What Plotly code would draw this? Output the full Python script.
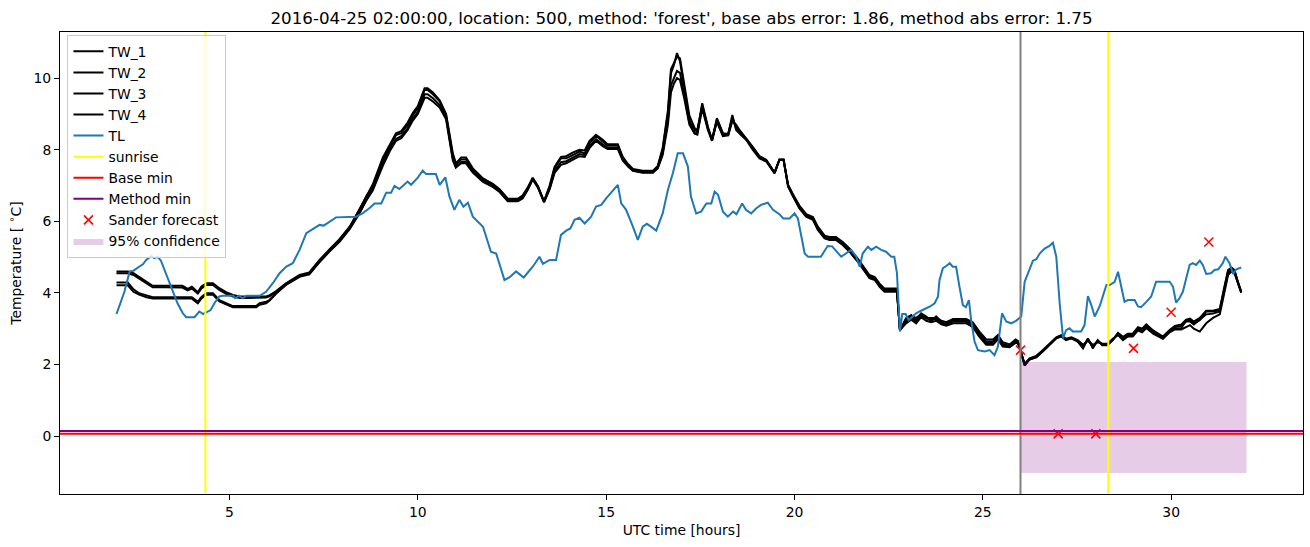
import plotly.graph_objects as go

# ---------------- data ----------------
TW_T = [2.0, 2.3, 2.45, 2.6, 2.8, 2.96, 3.3, 3.58, 3.75, 3.89, 4.0, 4.16, 4.25, 4.38, 4.56, 4.73, 4.91, 5.09,
        5.27, 5.5, 5.71, 5.8, 5.97, 6.06, 6.24,
        6.5, 6.86, 7.12, 7.39, 7.66, 7.92, 8.19, 8.45, 8.63, 8.8, 9.07, 9.25, 9.42, 9.56, 9.73, 9.87, 10.0,
        10.18, 10.26, 10.4, 10.58, 10.75, 10.93, 11.01, 11.15, 11.28, 11.46, 11.73, 11.99, 12.17, 12.39, 12.65,
        12.78, 12.92, 13.05, 13.19, 13.35, 13.5, 13.63, 13.8, 13.94, 14.11, 14.29, 14.43, 14.56, 14.73, 14.91,
        15.04, 15.31, 15.44, 15.58, 15.71, 15.97, 16.24, 16.37, 16.5, 16.64, 16.72, 16.8, 16.88, 16.96, 17.08,
        17.21, 17.35, 17.42, 17.55, 17.7, 17.81, 17.94, 18.1, 18.24, 18.35, 18.45, 18.58, 18.72, 18.89, 19.07,
        19.25, 19.47, 19.6, 19.71, 19.83, 19.96, 20.13, 20.31, 20.49, 20.62, 20.8, 20.93, 21.1, 21.28, 21.46,
        21.68, 21.86, 21.99, 22.13, 22.26, 22.39, 22.65, 22.72, 22.8, 22.88, 22.96, 23.1, 23.23, 23.36, 23.5,
        23.63, 23.76, 23.9, 24.03, 24.21, 24.56, 24.73, 24.91, 25.09, 25.27, 25.4, 25.53, 25.71, 25.87, 25.93,
        26.02, 26.11, 26.24, 26.42, 26.59, 26.77, 26.95, 27.08, 27.21, 27.35, 27.52, 27.66, 27.79, 27.92,
        28.05, 28.17, 28.31, 28.45, 28.59, 28.72, 28.85, 28.98, 29.12, 29.23, 29.34, 29.52, 29.78, 29.96,
        30.1, 30.27, 30.4, 30.5, 30.6, 30.76, 30.93, 31.11, 31.29, 31.42, 31.51, 31.6, 31.68, 31.77, 31.86]

TW_1 = [4.6, 4.6, 4.55, 4.44, 4.31, 4.2, 4.2, 4.2, 4.2, 4.11, 4.17, 4.02, 4.17, 4.27, 4.27, 4.13, 4.02, 3.94,
        3.9, 3.9, 3.9, 3.9, 3.9, 3.93, 4.05,
        4.27, 4.5, 4.57, 4.92, 5.22, 5.5, 5.85, 6.32, 6.69, 6.97, 7.72, 8.09, 8.41, 8.46, 8.69, 8.97, 9.16,
        9.67, 9.67, 9.55, 9.35, 8.97, 7.81, 7.58, 7.73, 7.73, 7.44, 7.16, 7.02, 6.88, 6.6, 6.6,
        6.69, 6.92, 7.2, 6.97, 6.55, 6.97, 7.48, 7.76, 7.76, 7.85, 7.95, 7.9, 8.18, 8.39, 8.23,
        8.11, 8.11, 7.76, 7.58, 7.44, 7.39, 7.39, 7.53, 8.0, 9.02, 10.14, 10.37, 10.7, 10.47, 9.67,
        8.83, 8.46, 8.46, 9.3, 8.65, 8.27, 8.88, 8.46, 8.44, 8.97, 8.55, 8.41, 8.27, 8.0, 7.76,
        7.67, 7.34, 7.72, 7.72, 6.97, 6.69, 6.36, 6.13, 6.04, 5.76, 5.52, 5.48, 5.48, 5.34, 5.15,
        4.87, 4.59, 4.41, 4.36, 4.17, 4.03, 4.03, 4.03, 2.96, 3.15, 3.29, 3.38, 3.24, 3.43, 3.34,
        3.2, 3.34, 3.2, 3.1, 3.24, 3.24, 3.15, 2.87, 2.64, 2.64, 2.78, 2.57, 2.5, 2.68, 2.64,
        2.31, 1.97, 2.14, 2.2, 2.36, 2.54, 2.73, 2.78, 2.68, 2.73, 2.64, 2.45, 2.73, 2.45,
        2.68, 2.54, 2.54, 2.68, 2.87, 2.73, 2.82, 2.82, 3.01, 2.96, 3.1, 2.92, 2.73, 2.92,
        3.01, 3.01, 3.24, 3.24, 3.15, 3.24, 3.48, 3.48, 3.52, 4.17, 4.64, 4.71, 4.64, 4.31, 4.03]

TW_2 = [4.55, 4.55, 4.5, 4.4, 4.26, 4.16, 4.16, 4.15, 4.15, 4.07, 4.12, 3.98, 4.12, 4.22, 4.22, 4.08, 3.97, 3.9,
        3.86, 3.86, 3.86, 3.86, 3.87, 3.9, 4.03,
        4.25, 4.48, 4.55, 4.9, 5.2, 5.48, 5.83, 6.35, 6.72, 7.02, 7.78, 8.15, 8.46, 8.52, 8.76, 9.03, 9.22,
        9.72, 9.72, 9.6, 9.38, 9.0, 7.9, 7.62, 7.78, 7.78, 7.48, 7.2, 7.05, 6.9, 6.63, 6.63,
        6.72, 6.95, 7.22, 6.98, 6.56, 7.0, 7.52, 7.8, 7.82, 7.92, 8.0, 7.98, 8.25, 8.42, 8.28,
        8.15, 8.15, 7.8, 7.6, 7.46, 7.41, 7.41, 7.55, 8.05, 9.1, 10.25, 10.45, 10.6, 10.55, 9.8,
        8.95, 8.6, 8.55, 9.25, 8.6, 8.25, 8.85, 8.45, 8.42, 8.9, 8.6, 8.45, 8.3, 8.05, 7.8,
        7.7, 7.36, 7.72, 7.72, 7.0, 6.72, 6.4, 6.17, 6.08, 5.8, 5.56, 5.52, 5.52, 5.38, 5.2,
        4.92, 4.64, 4.46, 4.4, 4.22, 4.08, 4.08, 4.08, 2.96, 3.08, 3.2, 3.3, 3.2, 3.36, 3.28,
        3.25, 3.28, 3.15, 3.14, 3.2, 3.2, 3.1, 2.82, 2.6, 2.6, 2.74, 2.54, 2.52, 2.64, 2.62,
        2.3, 2.0, 2.15, 2.22, 2.38, 2.56, 2.74, 2.8, 2.7, 2.74, 2.66, 2.5, 2.7, 2.5,
        2.66, 2.56, 2.56, 2.7, 2.85, 2.75, 2.84, 2.84, 3.0, 2.95, 3.08, 2.9, 2.75, 2.94,
        3.05, 3.08, 3.2, 3.2, 3.12, 3.25, 3.4, 3.42, 3.48, 4.1, 4.55, 4.65, 4.6, 4.3, 4.02]

TW_3 = [4.29, 4.29, 4.1, 3.99, 3.93, 3.88, 3.88, 3.88, 3.88, 3.88, 3.88, 3.75, 3.88, 3.99, 3.99, 3.8, 3.71, 3.63,
        3.63, 3.63, 3.63, 3.71, 3.75, 3.8, 4.0,
        4.24, 4.47, 4.55, 4.88, 5.18, 5.45, 5.8, 6.25, 6.6, 6.9, 7.62, 8.0, 8.3, 8.38, 8.6, 8.88, 9.06,
        9.55, 9.55, 9.44, 9.25, 8.9, 7.75, 7.52, 7.66, 7.66, 7.38, 7.12, 6.98, 6.84, 6.57, 6.57,
        6.65, 6.9, 7.18, 6.95, 6.54, 6.92, 7.4, 7.65, 7.68, 7.78, 7.88, 7.85, 8.1, 8.3, 8.15,
        8.05, 8.05, 7.72, 7.55, 7.42, 7.37, 7.37, 7.5, 7.9, 8.85, 9.8, 10.0, 10.2, 10.15, 9.5,
        8.75, 8.55, 8.5, 9.2, 8.6, 8.3, 8.8, 8.4, 8.45, 8.85, 8.65, 8.5, 8.32, 8.08, 7.82,
        7.72, 7.36, 7.72, 7.72, 7.02, 6.75, 6.44, 6.2, 6.12, 5.85, 5.6, 5.56, 5.56, 5.42, 5.24,
        4.96, 4.68, 4.5, 4.44, 4.26, 4.12, 4.12, 4.12, 2.96, 3.05, 3.15, 3.25, 3.15, 3.32, 3.22,
        3.18, 3.22, 3.12, 3.08, 3.15, 3.15, 3.05, 2.77, 2.55, 2.55, 2.7, 2.5, 2.48, 2.6, 2.6,
        2.28, 2.02, 2.17, 2.24, 2.4, 2.58, 2.76, 2.82, 2.72, 2.76, 2.68, 2.55, 2.66, 2.55,
        2.62, 2.58, 2.58, 2.72, 2.82, 2.68, 2.78, 2.78, 2.95, 2.9, 3.02, 2.86, 2.72, 2.9,
        2.98, 2.98, 3.05, 3.1, 3.0, 2.92, 3.15, 3.3, 3.4, 4.05, 4.5, 4.6, 4.55, 4.28, 4.0]

TW_4 = [4.21, 4.21, 4.03, 3.95, 3.88, 3.84, 3.84, 3.84, 3.84, 3.84, 3.84, 3.71, 3.84, 3.95, 3.95, 3.76, 3.67, 3.6,
        3.6, 3.6, 3.6, 3.67, 3.71, 3.78, 3.98,
        4.22, 4.45, 4.52, 4.86, 5.16, 5.43, 5.78, 6.22, 6.58, 6.85, 7.55, 7.95, 8.25, 8.32, 8.55, 8.82, 9.0,
        9.45, 9.45, 9.35, 9.18, 8.85, 7.7, 7.5, 7.62, 7.62, 7.36, 7.1, 6.96, 6.82, 6.56, 6.56,
        6.64, 6.88, 7.17, 6.94, 6.53, 6.9, 7.35, 7.58, 7.62, 7.72, 7.82, 7.8, 8.05, 8.25, 8.1,
        8.02, 8.02, 7.7, 7.53, 7.41, 7.36, 7.36, 7.48, 7.85, 8.7, 9.6, 9.85, 10.0, 9.95, 9.4,
        8.7, 8.45, 8.42, 9.15, 8.55, 8.25, 8.78, 8.38, 8.4, 8.8, 8.7, 8.48, 8.3, 8.06, 7.8,
        7.7, 7.35, 7.72, 7.72, 6.98, 6.7, 6.38, 6.15, 6.06, 5.78, 5.54, 5.5, 5.5, 5.36, 5.17,
        4.9, 4.62, 4.44, 4.38, 4.2, 4.06, 4.06, 4.06, 2.96, 3.1, 3.25, 3.35, 3.3, 3.4, 3.3,
        3.3, 3.3, 3.22, 3.18, 3.27, 3.27, 3.18, 2.92, 2.7, 2.7, 2.82, 2.62, 2.56, 2.7, 2.66,
        2.33, 1.98, 2.14, 2.21, 2.37, 2.55, 2.74, 2.79, 2.69, 2.74, 2.65, 2.48, 2.72, 2.48,
        2.67, 2.55, 2.55, 2.69, 2.88, 2.77, 2.86, 2.86, 3.04, 3.0, 3.12, 2.95, 2.78, 2.96,
        3.08, 3.12, 3.25, 3.28, 3.2, 3.3, 3.5, 3.5, 3.55, 4.2, 4.6, 4.7, 4.62, 4.3, 4.03]

TL_T = [2.0, 2.21, 2.35, 2.45, 2.6, 2.7, 2.79, 2.92, 3.0, 3.09, 3.18, 3.31, 3.45, 3.62, 3.76, 3.85, 4.07, 4.2,
        4.3, 4.39, 4.5, 4.6, 4.73, 4.82, 5.1, 5.15, 5.25, 5.35, 5.45, 5.6, 5.8, 5.97, 6.15, 6.33, 6.5, 6.68,
        6.86, 7.04, 7.21, 7.39, 7.5, 7.66, 7.83, 8.36, 8.54, 8.72, 8.85, 9.03, 9.16, 9.29, 9.38, 9.51, 9.62,
        9.73, 9.82, 10.0, 10.13, 10.22, 10.48, 10.58, 10.73, 10.84, 10.97, 11.1, 11.21, 11.33, 11.46, 11.59,
        11.73, 11.94, 12.08, 12.3, 12.43, 12.61, 12.81, 13.05, 13.23, 13.32, 13.5, 13.67, 13.8, 13.94, 14.05,
        14.16, 14.29, 14.43, 14.6, 14.73, 14.87, 15.0, 15.31, 15.4, 15.53, 15.71, 15.84, 15.97, 16.08, 16.19,
        16.33, 16.5, 16.64, 16.77, 16.9, 17.04, 17.17, 17.25, 17.39, 17.52, 17.66, 17.79, 17.88, 17.97, 18.1,
        18.23, 18.37, 18.46, 18.61, 18.71, 18.85, 18.98, 19.11, 19.29, 19.43, 19.6, 19.7, 19.87, 20.0, 20.09,
        20.27, 20.36, 20.7, 20.88, 21.0, 21.24, 21.42, 21.5, 21.64, 21.73, 21.81, 21.95, 22.04, 22.17, 22.3,
        22.43, 22.57, 22.65, 22.72, 22.8, 22.86, 22.95, 23.03, 23.13, 23.23, 23.32, 23.4, 23.49, 23.6, 23.72,
        23.81, 23.85, 23.94, 24.03, 24.12, 24.2, 24.29, 24.38, 24.47, 24.55, 24.63, 24.69, 24.78, 24.87,
        25.05, 25.18, 25.31, 25.4, 25.51, 25.62, 25.75, 25.88, 25.93, 26.02, 26.11, 26.24, 26.33, 26.42,
        26.51, 26.64, 26.77, 26.86, 26.95, 27.04, 27.13, 27.21, 27.3, 27.39, 27.61, 27.7, 27.79, 27.88,
        27.97, 28.1, 28.28, 28.37, 28.5, 28.59, 28.67, 28.76, 28.85, 29.03, 29.12, 29.2, 29.34, 29.47,
        29.6, 29.96, 30.05, 30.13, 30.22, 30.31, 30.4, 30.49, 30.57, 30.66, 30.76, 30.84, 30.93, 31.06,
        31.15, 31.25, 31.37, 31.44, 31.55, 31.64, 31.73, 31.86]

TL = [3.41, 4.03, 4.6, 4.62, 4.73, 4.8, 4.92, 5.03, 4.97, 5.01, 4.9, 4.55, 4.17, 3.71, 3.43, 3.32, 3.32, 3.48,
      3.41, 3.46, 3.52, 3.71, 3.9, 3.92, 3.92, 3.85, 3.92, 3.85, 3.92, 3.92, 3.92, 4.03, 4.27, 4.55, 4.73, 4.83,
      5.2, 5.67, 5.78, 5.9, 5.88, 6.0, 6.11, 6.13, 6.23, 6.37, 6.5, 6.5, 6.8, 6.8, 6.99, 6.9, 7.0,
      7.11, 7.02, 7.22, 7.42, 7.32, 7.32, 7.02, 7.23, 6.69, 6.32, 6.6, 6.41, 6.52, 6.13, 5.99,
      5.85, 5.15, 5.1, 4.36, 4.43, 4.6, 4.43, 4.73, 5.01, 4.81, 4.92, 4.92, 5.62, 5.74, 5.8,
      6.04, 6.1, 5.94, 6.13, 6.41, 6.46, 6.64, 7.02, 6.5, 6.32, 5.85, 5.48, 5.85, 5.93, 5.85,
      5.74, 6.22, 6.88, 7.34, 7.9, 7.9, 7.53, 6.69, 6.22, 6.27, 6.5, 6.5, 6.83, 6.74, 6.27,
      6.13, 6.27, 6.2, 6.5, 6.32, 6.22, 6.36, 6.46, 6.52, 6.32, 6.2, 6.08, 6.08, 6.22, 6.08,
      5.1, 5.01, 5.01, 5.31, 5.3, 5.01, 5.15, 5.2, 5.01, 4.73, 5.1, 5.29, 5.2, 5.29, 5.2,
      5.15, 5.01, 5.01, 4.55, 2.92, 3.41, 3.41, 3.24, 3.34, 3.43, 3.48, 3.52, 3.57, 3.62, 3.71,
      3.9, 4.36, 4.69, 4.75, 4.83, 4.73, 4.73, 4.17, 3.66, 3.6, 3.8, 3.24, 2.64, 2.4,
      2.36, 2.4, 2.26, 2.5, 3.43, 3.2, 3.15, 3.22, 3.26, 3.34, 4.31, 4.64, 4.9, 4.94,
      5.1, 5.24, 5.31, 5.4, 5.01, 3.71, 2.73, 2.96, 3.01, 2.92, 2.92, 3.1, 3.91, 3.66,
      3.34, 3.62, 4.22, 4.22, 4.31, 4.59, 4.17, 3.75, 3.8, 3.8, 3.62, 3.6, 3.75, 3.9,
      4.31, 4.31, 4.17, 3.73, 3.85, 4.03, 4.41, 4.78, 4.83, 4.78, 4.9, 4.78, 4.53, 4.55,
      4.64, 4.66, 4.83, 5.01, 4.83, 4.53, 4.66, 4.71]

SUNRISE = [4.36, 28.33]
FORECAST_START = 26.0
BASE_MIN = 0.065
METHOD_MIN = 0.14
SANDER_T = [26, 27, 28, 29, 30, 31]
SANDER = [2.4, 0.06, 0.06, 2.45, 3.46, 5.42]
CONF_T = [26.0, 32.0]
CONF_LOW = -1.03
CONF_HIGH = 2.07

TITLE = "2016-04-25 02:00:00, location: 500, method: 'forest', base abs error: 1.86, method abs error: 1.75"

# ---------------- figure ----------------
FONT = "DejaVu Sans"
fig = go.Figure()

for name, ys in [("TW_1", TW_1), ("TW_2", TW_2), ("TW_3", TW_3), ("TW_4", TW_4)]:
    fig.add_trace(go.Scatter(x=TW_T, y=ys, mode="lines", name=name,
                             line=dict(color="black", width=2)))

fig.add_trace(go.Scatter(x=TL_T, y=TL, mode="lines", name="TL",
                         line=dict(color="#1f77b4", width=2)))

# legend-only entries for reference lines (drawn as shapes below)
fig.add_trace(go.Scatter(x=[None], y=[None], mode="lines", name="sunrise",
                         line=dict(color="yellow", width=2)))
fig.add_trace(go.Scatter(x=[None], y=[None], mode="lines", name="Base min",
                         line=dict(color="red", width=2)))
fig.add_trace(go.Scatter(x=[None], y=[None], mode="lines", name="Method min",
                         line=dict(color="purple", width=2)))

fig.add_trace(go.Scatter(x=SANDER_T, y=SANDER, mode="markers", name="Sander forecast",
                         marker=dict(symbol="x-thin", size=9, color="red",
                                     line=dict(color="red", width=1.5))))

fig.add_trace(go.Scatter(x=[CONF_T[0], CONF_T[1], CONF_T[1], CONF_T[0], CONF_T[0]],
                         y=[CONF_LOW, CONF_LOW, CONF_HIGH, CONF_HIGH, CONF_LOW],
                         mode="lines", fill="toself", name="95% confidence",
                         fillcolor="rgba(128,0,128,0.2)", line=dict(width=0)))

for s in SUNRISE:
    fig.add_vline(x=s, line=dict(color="yellow", width=2))
fig.add_vline(x=FORECAST_START, line=dict(color="gray", width=2))
fig.add_hline(y=BASE_MIN, line=dict(color="red", width=2))
fig.add_hline(y=METHOD_MIN, line=dict(color="purple", width=2))

axis_common = dict(showline=True, linecolor="black", linewidth=1, mirror=True,
                   ticks="outside", ticklen=5, tickcolor="black", showgrid=False,
                   zeroline=False, automargin=False,
                   tickfont=dict(family=FONT, size=13.9, color="black"))

fig.update_xaxes(range=[0.5, 33.5], tickvals=[5, 10, 15, 20, 25, 30],
                 title=dict(text="UTC time [hours]", font=dict(family=FONT, size=13.9, color="black"),
                            standoff=6),
                 **axis_common)
fig.update_yaxes(range=[-1.62, 11.29], tickvals=[0, 2, 4, 6, 8, 10],
                 title=dict(text="Temperature [ <sup>∘</sup>C]", font=dict(family=FONT, size=13.9, color="black"),
                            standoff=8),
                 **axis_common)

fig.update_layout(
    width=1310, height=547,
    margin=dict(l=60, r=7, t=32, b=53),
    paper_bgcolor="white", plot_bgcolor="white",
    font=dict(family=FONT, color="black"),
    title=dict(text=TITLE, x=0.5, xref="paper", xanchor="center",
               y=1 - 18 / 547, yref="container", yanchor="middle",
               font=dict(family=FONT, size=16.7, color="black")),
    legend=dict(x=0.006, y=0.994, xanchor="left", yanchor="top",
                bgcolor="rgba(255,255,255,0.8)", bordercolor="#cccccc", borderwidth=1,
                itemwidth=30,
                font=dict(family=FONT, size=13.9, color="black"), tracegroupgap=0),
    showlegend=True,
)

fig.write_html("out.html")
